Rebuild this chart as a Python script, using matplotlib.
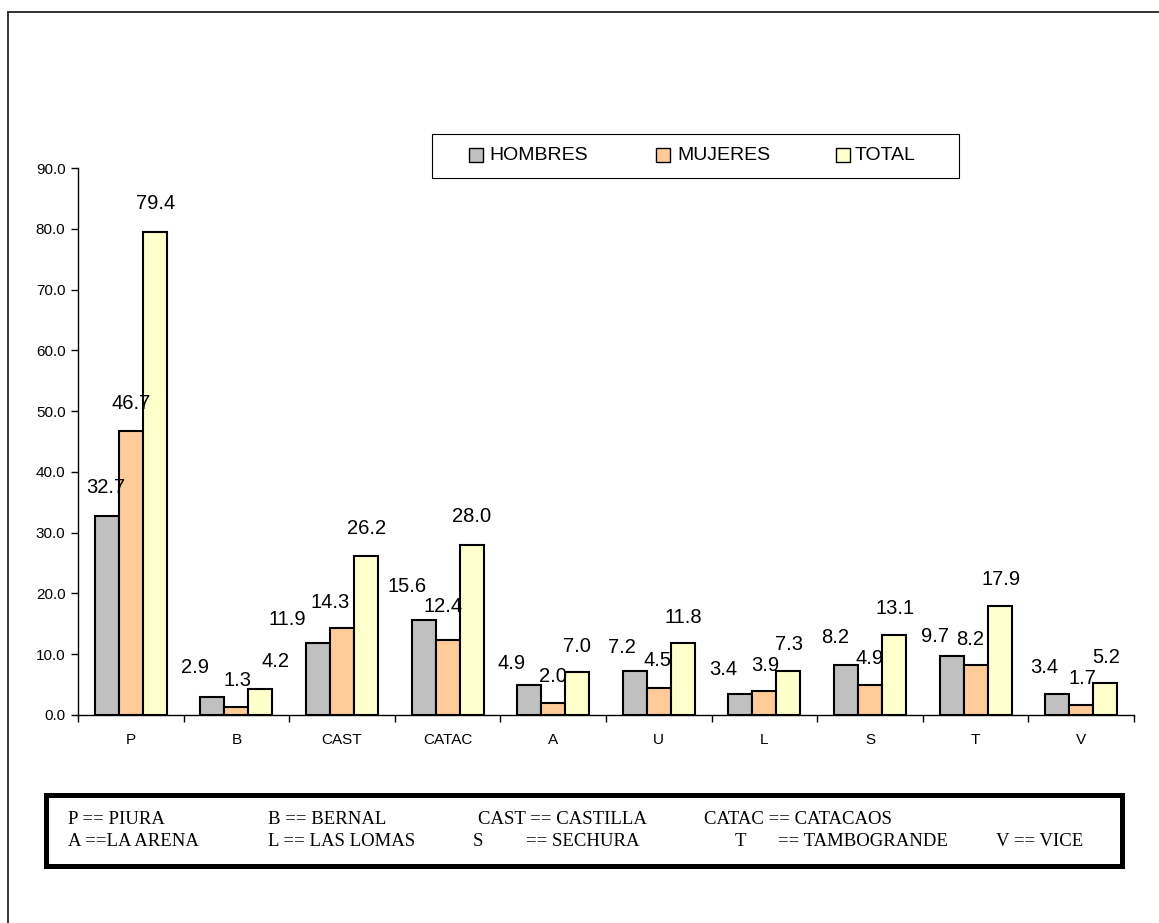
import matplotlib
matplotlib.use('Agg')
import matplotlib.pyplot as plt
from matplotlib.patches import Rectangle
from matplotlib.lines import Line2D
import numpy as np

categories = ['P', 'B', 'CAST', 'CATAC', 'A', 'U', 'L', 'S', 'T', 'V']
hombres = [32.7, 2.9, 11.9, 15.6, 4.9, 7.2, 3.4, 8.2, 9.7, 3.4]
mujeres = [46.7, 1.3, 14.3, 12.4, 2.0, 4.5, 3.9, 4.9, 8.2, 1.7]
total = [79.4, 4.2, 26.2, 28.0, 7.0, 11.8, 7.3, 13.1, 17.9, 5.2]
series_names = ['HOMBRES', 'MUJERES', 'TOTAL']
colors = ['#C0C0C0', '#FFCC99', '#FFFFCC']

# label offsets in pixels (dx, dy) from the top centre of each bar, as placed in the original
offs_h = [(-1, 29), (-17, 30), (-31, 23), (-17, 34), (-18, 22), (-13, 24), (-17, 25), (-11, 28), (-17, 20), (-13, 27)]
offs_m = [(0, 28), (1, 27), (-12, 26), (-5, 33), (0, 26), (-1, 27), (1, 26), (0, 27), (-5, 26), (1, 26)]
offs_t = [(1, 29), (15, 28), (1, 27), (0, 28), (0, 26), (1, 26), (1, 26), (1, 27), (1, 27), (1, 26)]

key_row1 = [('P == PIURA', 68), ('B == BERNAL', 268), ('CAST == CASTILLA', 478), ('CATAC == CATACAOS', 704)]
key_row2 = [('A ==LA ARENA', 68), ('L == LAS LOMAS', 268), ('S', 473), ('== SECHURA', 526),
            ('T', 735), ('== TAMBOGRANDE', 778), ('V == VICE', 996)]

W, H = 1159, 923
plt.rcParams['font.family'] = ['Liberation Sans', 'DejaVu Sans']

fig = plt.figure(figsize=(W / 100, H / 100), dpi=100)
fig.patch.set_facecolor('white')


def fx(x):
    return x / W


def fy(y):
    return 1 - y / H


ax = fig.add_axes([fx(78), fy(715), 1056 / W, 547 / H])

x = np.arange(len(categories))
bw = 0.227
all_vals = [hombres, mujeres, total]
all_offs = [offs_h, offs_m, offs_t]
for k in range(3):
    xs = x + (k - 1) * bw
    ax.bar(xs, all_vals[k], width=bw, color=colors[k], edgecolor='black', linewidth=1.5, zorder=2)
    for i in range(len(categories)):
        dx, dy = all_offs[k][i]
        ax.annotate(f'{all_vals[k][i]:.1f}', (xs[i], all_vals[k][i]), textcoords='offset pixels',
                    xytext=(dx, dy), ha='center', va='center', fontsize=14.5)

ax.set_xlim(-0.5, len(categories) - 0.5)
ax.set_ylim(0, 90)
ax.set_yticks(np.arange(0, 91, 10))
ax.set_yticklabels([f'{v:.1f}' for v in np.arange(0, 91, 10)], fontsize=11)
ax.tick_params(axis='y', direction='out', length=5, width=1, pad=4)

ax.set_xticks(np.arange(-0.5, len(categories), 1.0))
ax.set_xticklabels([])
ax.set_xticks(x, minor=True)
ax.set_xticklabels(categories, minor=True, fontsize=11)
ax.tick_params(axis='x', which='major', direction='out', length=5, width=1)
ax.tick_params(axis='x', which='minor', length=0, pad=13)

for s in ['top', 'right']:
    ax.spines[s].set_visible(False)
for s in ['left', 'bottom']:
    ax.spines[s].set_linewidth(1)
    ax.spines[s].set_color('black')

# legend drawn by hand so the frame matches the original
fig.add_artist(Rectangle((fx(432), fy(178)), 527 / W, 44 / H, transform=fig.transFigure,
                         facecolor='white', edgecolor='black', linewidth=0.8))
for k, (sx, tx) in enumerate([(469, 489), (656, 677), (836, 855)]):
    fig.add_artist(Rectangle((fx(sx), fy(162)), 14 / W, 14 / H, transform=fig.transFigure,
                             facecolor=colors[k], edgecolor='black', linewidth=1.0))
    fig.text(fx(tx), fy(155), series_names[k], fontsize=14, ha='left', va='center')

# abbreviation key box
fig.add_artist(Rectangle((fx(45.5), fy(865.5)), 1076 / W, 71 / H, transform=fig.transFigure,
                         facecolor='white', edgecolor='black', linewidth=3.6))
serif = ['Liberation Serif', 'DejaVu Serif']
for txt, xp in key_row1:
    fig.text(fx(xp), fy(824), txt, fontsize=13.5, family=serif, ha='left', va='baseline')
for txt, xp in key_row2:
    fig.text(fx(xp), fy(846), txt, fontsize=13.5, family=serif, ha='left', va='baseline')

# outer frame (only top and left edges fall inside the picture)
fig.add_artist(Line2D([fx(8), fx(8)], [0, fy(12)], transform=fig.transFigure, color='#333333', linewidth=1.4))
fig.add_artist(Line2D([fx(8), 1], [fy(12), fy(12)], transform=fig.transFigure, color='#333333', linewidth=1.4))

fig.savefig('out.png', dpi=100)
